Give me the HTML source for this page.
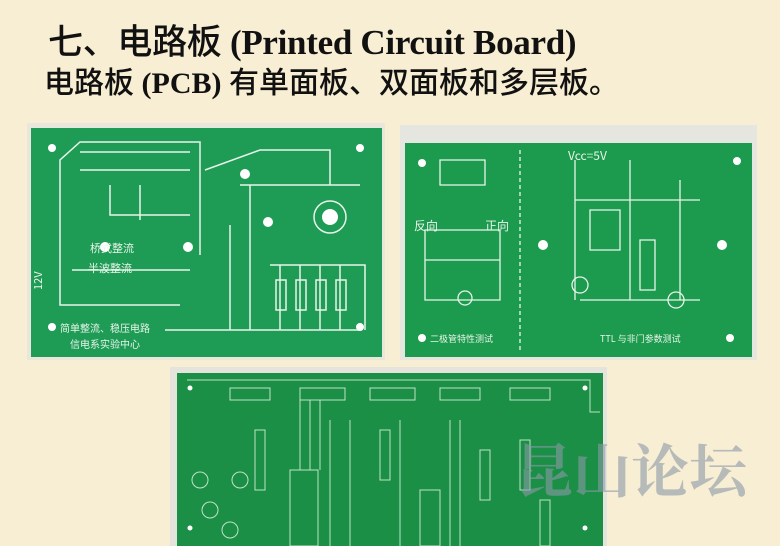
<!DOCTYPE html>
<html><head><meta charset="utf-8"><style>
html,body{margin:0;padding:0}
body{width:780px;height:546px;overflow:hidden;background:#f8eed3;position:relative;font-family:"Liberation Serif","Noto Serif CJK SC",serif}
.t1{position:absolute;left:48px;top:14px;font-size:35px;color:#111;white-space:nowrap;font-weight:bold;letter-spacing:-0.3px}
.t1 .c{font-family:"Noto Sans CJK SC",sans-serif;font-weight:500}
.t2{position:absolute;left:44px;top:58px;font-size:30px;color:#111;white-space:nowrap;font-weight:bold}
.t2 .c{font-family:"Noto Sans CJK SC",sans-serif;font-weight:500}
svg{position:absolute;left:0;top:0}
</style></head><body>
<div class="t1"><span class="c">七、电路板</span> (Printed Circuit Board)</div>
<div class="t2"><span class="c">电路板</span> (PCB) <span class="c">有单面板、双面板和多层板。</span></div>
<svg width="780" height="546" viewBox="0 0 780 546">
<rect x="27" y="123" width="358" height="237" fill="#e9e6dc"/>
<rect x="31" y="128" width="351" height="229" fill="#1e9b55"/>
<g stroke="#e8f5ea" stroke-width="1.5" fill="none">
<path d="M60 200 L60 160 L80 142 L200 142 L200 225 M80 152 L190 152 M80 170 L190 170 M110 185 L110 215 L190 215 M140 185 L140 220 M60 200 L60 305 L180 305 M72 270 L190 270 M200 225 L200 255 M165 330 L360 330 M205 170 L260 150 L330 150 L330 185 M240 185 L360 185 M230 225 L230 330 M250 185 L250 330 M270 265 L365 265 L365 330 M280 265 L280 330 M300 265 L300 330 M320 265 L320 330 M340 265 L340 330"/>
<circle cx="330" cy="217" r="16"/>
<rect x="276" y="280" width="10" height="30"/><rect x="296" y="280" width="10" height="30"/><rect x="316" y="280" width="10" height="30"/><rect x="336" y="280" width="10" height="30"/>
</g>
<g fill="#fff"><circle cx="52" cy="148" r="4"/><circle cx="360" cy="148" r="4"/><circle cx="52" cy="327" r="4"/><circle cx="360" cy="327" r="4"/><circle cx="330" cy="217" r="8"/><circle cx="105" cy="247" r="5"/><circle cx="188" cy="247" r="5"/><circle cx="245" cy="174" r="5"/><circle cx="268" cy="222" r="5"/></g>
<g fill="#e8f5ea" font-family="Noto Sans CJK SC,sans-serif" font-size="11"><text x="90" y="252">桥式整流</text><text x="88" y="272">半波整流</text><text x="60" y="332" font-size="10">简单整流、稳压电路</text><text x="70" y="348" font-size="10">信电系实验中心</text><text x="42" y="290" transform="rotate(-90 42 290)">12V</text></g>

<rect x="400" y="125" width="357" height="235" fill="#e6e6e0"/>
<rect x="405" y="143" width="347" height="214" fill="#1c9a4e"/>
<g stroke="#e8f5ea" stroke-width="1.3" fill="none">
<path d="M520 150 L520 350" stroke-dasharray="4 3"/>
<path d="M425 230 L425 300 L500 300 L500 230 Z M440 160 L485 160 L485 185 L440 185 Z M425 260 L500 260 M575 160 L575 300 M575 200 L700 200 M580 300 L700 300 M630 160 L630 300 M680 180 L680 300 M590 210 L620 210 L620 250 L590 250 Z M640 240 L655 240 L655 290 L640 290 Z"/>
<circle cx="465" cy="298" r="7"/><circle cx="580" cy="285" r="8"/><circle cx="676" cy="300" r="8"/>
</g>
<g fill="#fff"><circle cx="422" cy="163" r="4"/><circle cx="737" cy="161" r="4"/><circle cx="422" cy="338" r="4"/><circle cx="730" cy="338" r="4"/><circle cx="543" cy="245" r="5"/><circle cx="722" cy="245" r="5"/></g>
<g fill="#e8f5ea" font-family="Noto Sans CJK SC,sans-serif" font-size="12"><text x="568" y="160">Vcc=5V</text><text x="414" y="230">反向</text><text x="485" y="230">正向</text><text x="430" y="342" font-size="9">二极管特性测试</text><text x="600" y="342" font-size="9">TTL 与非门参数测试</text></g>

<rect x="170" y="367" width="437" height="179" fill="#e4e4dc"/>
<rect x="177" y="373" width="426" height="173" fill="#1a8f45"/>
<g stroke="#bfe3c6" stroke-width="1" fill="none">
<path d="M187 380 L380 380 L590 380 L590 412 L600 412 M230 388 L270 388 L270 400 L230 400 Z M300 388 L345 388 L345 400 L300 400 Z M370 388 L415 388 L415 400 L370 400 Z M440 388 L480 388 L480 400 L440 400 Z M510 388 L550 388 L550 400 L510 400 Z M255 430 L265 430 L265 490 L255 490 Z M290 470 L318 470 L318 546 L290 546 Z M380 430 L390 430 L390 480 L380 480 Z M420 490 L440 490 L440 546 L420 546 Z M480 450 L490 450 L490 500 L480 500 Z M520 440 L530 440 L530 490 L520 490 Z M540 500 L550 500 L550 546 L540 546 Z M300 400 L300 470 M310 400 L310 470 M320 400 L320 470 M330 420 L330 546 M350 420 L350 546 M400 420 L400 546 M450 420 L450 546 M460 420 L460 546"/>
<circle cx="200" cy="480" r="8"/><circle cx="210" cy="510" r="8"/><circle cx="240" cy="480" r="8"/><circle cx="230" cy="530" r="8"/>
</g>
<g fill="#fff"><circle cx="190" cy="388" r="2.5"/><circle cx="585" cy="388" r="2.5"/><circle cx="190" cy="528" r="2.5"/><circle cx="585" cy="528" r="2.5"/></g>
<text x="515" y="492" font-family="Noto Serif CJK SC,serif" font-size="58" font-weight="bold" fill="#8a9aa8" fill-opacity="0.6">昆山论坛</text>
</svg>
</body></html>
